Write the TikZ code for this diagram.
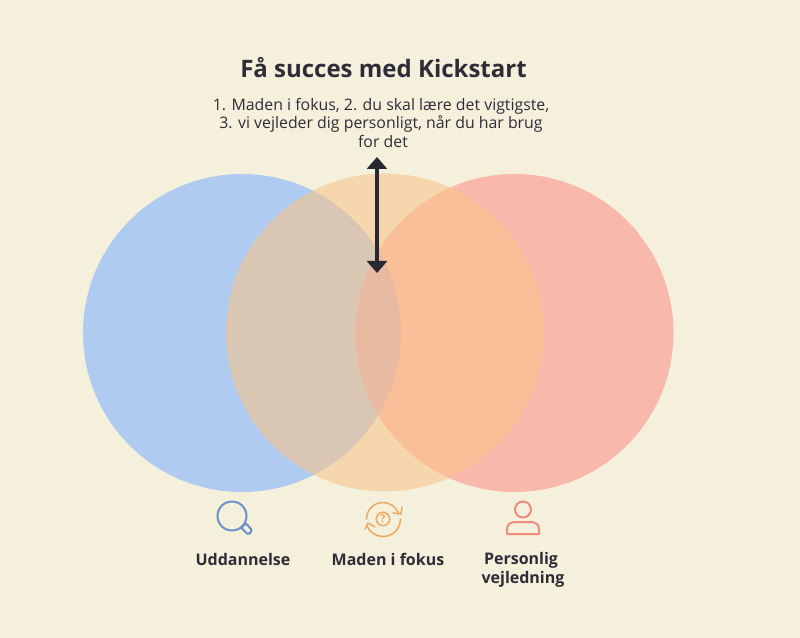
\documentclass[tikz,border=0pt]{standalone}
\usepackage{xcolor}
\usepackage{fontspec}
\setmainfont{Open Sans}
\usetikzlibrary{arrows.meta}
\definecolor{bgcream}{HTML}{F5F0DC}
\definecolor{circblue}{HTML}{AFCCF0}
\definecolor{circorange}{HTML}{F8C58B}
\definecolor{circpink}{HTML}{F8B8AB}
\definecolor{circlens}{HTML}{D4ACC3}
\definecolor{inkdark}{HTML}{2E2C36}
\definecolor{iconblue}{HTML}{6C8FC9}
\definecolor{iconorange}{HTML}{EDAA62}
\definecolor{iconpink}{HTML}{EE8B7C}
\begin{document}
\begin{tikzpicture}[
    x=0.75pt, y=-0.75pt,
    venn/.style={circle, minimum size=238.5pt, inner sep=0pt},
    caption/.style={font=\bfseries\fontsize{12}{14.4}\selectfont, text=inkdark, align=center},
    icon/.style={line width=1.5pt, line cap=round, line join=round},
    thinicon/.style={icon, line width=1.15pt}
]
\fill[bgcream] (0,0) rectangle (800,638);
\useasboundingbox (0,0) rectangle (800,638);
% circles
\node[venn, fill=circblue] (uddannelse) at (242,333) {};
\node[venn, fill=circpink] (vejledning) at (514.5,333) {};
\begin{scope}
    \clip (242,333) circle (159);
    \fill[circlens] (514.5,333) circle (159);
\end{scope}
\node[venn, fill=circorange, fill opacity=0.59] (fokus) at (385,332.5) {};
% heading
\node[font=\bfseries\fontsize{18}{21}\selectfont, text=inkdark] (title) at (383.5,68) {Få succes med Kickstart};
\node[font=\fontsize{11.9}{14.2}\selectfont, text=inkdark, align=center] (intro) at (381,123)
    {1. Maden i fokus, 2. du skal lære det vigtigste,\\3. vi vejleder dig personligt, når du har brug\\\hspace*{3pt}for det};
% arrow
\coordinate (arrowtop) at (377,157);
\coordinate (arrowbot) at (377,273);
\draw[{Triangle[width=15pt,length=9pt]}-{Triangle[width=15pt,length=9pt]}, line width=3.5pt, draw=inkdark!90!black] (arrowtop) -- (arrowbot);
% magnifier
\draw[icon, iconblue] (232,516) circle (14.5);
\draw[icon, iconblue] (242.5,526.5) -- (246,523.5) -- (251,529) .. controls (252.5,531) and (249.5,535) .. (247,533.5) -- (241.5,528) -- cycle;
% refresh and question mark
\draw[thinicon, iconorange] (383,519) circle (6.7);
\node[font=\bfseries\fontsize{8}{9}\selectfont, text=iconorange] (qmark) at (383,519) {?};
\draw[thinicon, iconorange] (383,519) ++(180:16.5) arc (180:338:16.5);
\draw[thinicon, iconorange] (393,513) -- (401,514) -- (402,507);
\draw[thinicon, iconorange] (383,519) ++(0:17.5) arc (0:160:17.5);
\draw[thinicon, iconorange] (375,527) -- (368,523) -- (365,529);
% person
\draw[icon, iconpink] (523,509.5) circle (8);
\draw[icon, iconpink] (507,534) -- (507,529) .. controls (507,524) and (511,522) .. (516,522) -- (530,522) .. controls (535,522) and (539,524) .. (539,529) -- (539,534) -- cycle;
% captions
\node[caption] (udd) at (243,559) {Uddannelse};
\node[caption] (mad) at (388,559) {Maden i fokus};
\node[caption] (per) at (523,570) {Personlig\hspace*{3pt}\\vejledning};
\end{tikzpicture}
\end{document}
